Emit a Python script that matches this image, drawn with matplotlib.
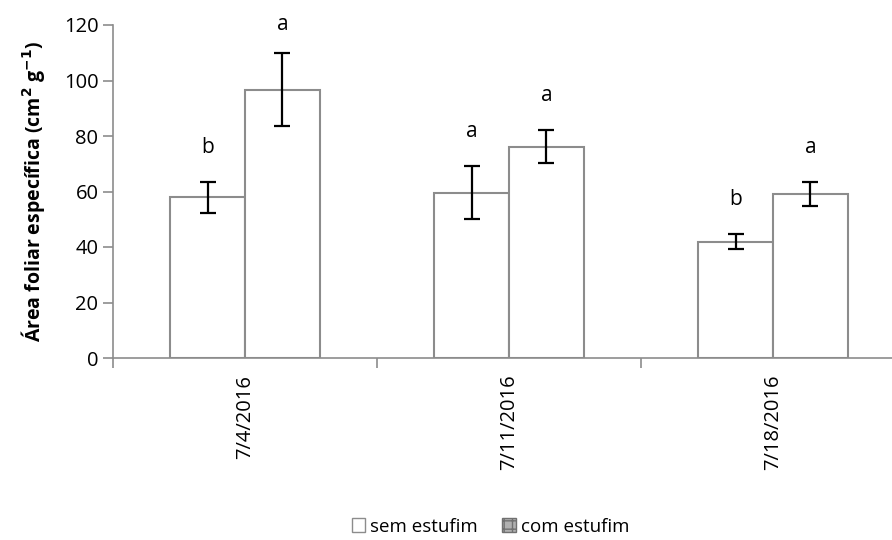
import numpy as np
import matplotlib
matplotlib.use('Agg')
import matplotlib.pyplot as plt
from matplotlib.patches import Patch

plt.rcParams['font.family'] = ['Open Sans', 'DejaVu Sans']

# dados
datas = ['7/4/2016', '7/11/2016', '7/18/2016']
sem_estufim = [58.1, 59.6, 41.9]
com_estufim = [96.6, 76.1, 59.0]
# limites das barras de erro (inferior, superior)
sem_inf = [52.4, 50.0, 39.2]
sem_sup = [63.3, 69.2, 44.7]
com_inf = [83.6, 70.2, 54.8]
com_sup = [109.9, 82.2, 63.3]
letras_sem = ['b', 'a', 'b']
letras_com = ['a', 'a', 'a']

cinza = '#8c8c8c'
x = np.arange(len(datas))
w = 0.284

fig = plt.figure(figsize=(8.92, 5.40), dpi=100)
ax = fig.add_axes([113/892, 1-358/540, (905-113)/892, (358-25)/540])

sem = np.array(sem_estufim)
com = np.array(com_estufim)
err_sem = [sem - np.array(sem_inf), np.array(sem_sup) - sem]
err_com = [com - np.array(com_inf), np.array(com_sup) - com]

ax.bar(x - w/2, sem, w, color='white', edgecolor=cinza, linewidth=1.5)
ax.bar(x + w/2, com, w, color='white', edgecolor=cinza, linewidth=1.5)
ax.errorbar(x - w/2, sem, yerr=err_sem, fmt='none', ecolor='black',
            elinewidth=1.6, capsize=6, capthick=1.6)
ax.errorbar(x + w/2, com, yerr=err_com, fmt='none', ecolor='black',
            elinewidth=1.6, capsize=6, capthick=1.6)

for i in range(len(datas)):
    ax.text(x[i] - w/2, sem_sup[i] + 12.5, letras_sem[i], ha='center',
            va='center', fontsize=15)
    ax.text(x[i] + w/2, min(com_sup[i] + 12.5, 120), letras_com[i],
            ha='center', va='center', fontsize=15)

ax.set_xlim(-0.5, len(datas) - 0.5)
ax.set_ylim(0, 120)
ax.set_yticks(np.arange(0, 121, 20))
ax.set_xticks(x)
ax.set_xticklabels(datas, rotation=90)
ax.set_xticks(np.arange(-0.5, len(datas), 1), minor=True)
ax.tick_params(axis='x', which='major', length=0, pad=12, labelsize=14.5)
ax.tick_params(axis='x', which='minor', length=7, color=cinza, width=1.2)
ax.tick_params(axis='y', length=7, color=cinza, width=1.2, labelsize=14.5)

for s in ['top', 'right']:
    ax.spines[s].set_visible(False)
for s in ['left', 'bottom']:
    ax.spines[s].set_color(cinza)
    ax.spines[s].set_linewidth(1.2)

ax.set_ylabel('Área foliar específica (cm$^{\\mathbf{2}}$ g$^{\\mathbf{-1}}$)',
              fontsize=14, fontweight='bold', labelpad=12)

handles = [Patch(facecolor='white', edgecolor=cinza, hatch='.', label='sem estufim'),
           Patch(facecolor='#b0b0b0', edgecolor='#707070', hatch='++', label='com estufim')]
fig.legend(handles=handles, loc='center', bbox_to_anchor=(0.55, 0.025),
           ncol=2, frameon=False, fontsize=13.5, handlelength=0.7,
           handleheight=0.7, handletextpad=0.3, columnspacing=1.3)

fig.savefig('out.png', dpi=100)
